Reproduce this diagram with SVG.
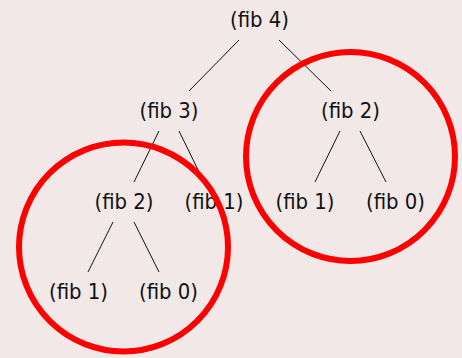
<svg xmlns="http://www.w3.org/2000/svg" width="462" height="358" viewBox="0 0 462 358">
<style>
.lbl{font-family:"DejaVu Sans","Liberation Sans",sans-serif;font-size:21px;fill:#111111;text-anchor:middle}
.edge{stroke:#111111;stroke-width:1;fill:none}
.ring{stroke:#ff0000;stroke-width:6;fill:none}
</style>
<rect width="462" height="358" fill="#f2e8e8"/>
<g id="connectors">
<line class="edge" x1="239" y1="40" x2="189" y2="91"/>
<line class="edge" x1="279" y1="40" x2="331" y2="91"/>
<line class="edge" x1="159" y1="131" x2="134" y2="182"/>
<line class="edge" x1="179" y1="131" x2="204" y2="182"/>
<line class="edge" x1="340" y1="131" x2="315" y2="182"/>
<line class="edge" x1="360" y1="131" x2="386" y2="182"/>
<line class="edge" x1="113" y1="222" x2="88" y2="272"/>
<line class="edge" x1="134" y1="222" x2="159" y2="272"/>
</g>
<g id="n-fib4"><text class="lbl" x="259.5" y="27.3" textLength="59" lengthAdjust="spacingAndGlyphs">(fib 4)</text></g>
<g id="n-fib3"><text class="lbl" x="169" y="118" textLength="59" lengthAdjust="spacingAndGlyphs">(fib 3)</text></g>
<g id="n-fib2r"><text class="lbl" x="350.5" y="118" textLength="59" lengthAdjust="spacingAndGlyphs">(fib 2)</text></g>
<g id="n-fib2l"><text class="lbl" x="124" y="208.5" textLength="59" lengthAdjust="spacingAndGlyphs">(fib 2)</text></g>
<g id="n-fib1m"><text class="lbl" x="214" y="208.5" textLength="59" lengthAdjust="spacingAndGlyphs">(fib 1)</text></g>
<g id="n-fib1r"><text class="lbl" x="305" y="208.5" textLength="59" lengthAdjust="spacingAndGlyphs">(fib 1)</text></g>
<g id="n-fib0r"><text class="lbl" x="395.5" y="208.5" textLength="59" lengthAdjust="spacingAndGlyphs">(fib 0)</text></g>
<g id="n-fib1l"><text class="lbl" x="78.5" y="299" textLength="59" lengthAdjust="spacingAndGlyphs">(fib 1)</text></g>
<g id="n-fib0l"><text class="lbl" x="168.5" y="299" textLength="59" lengthAdjust="spacingAndGlyphs">(fib 0)</text></g>
<g id="circles">
<circle class="ring" cx="123.5" cy="247" r="104.5"/>
<circle class="ring" cx="350.5" cy="156.5" r="104.5"/>
</g>
</svg>
